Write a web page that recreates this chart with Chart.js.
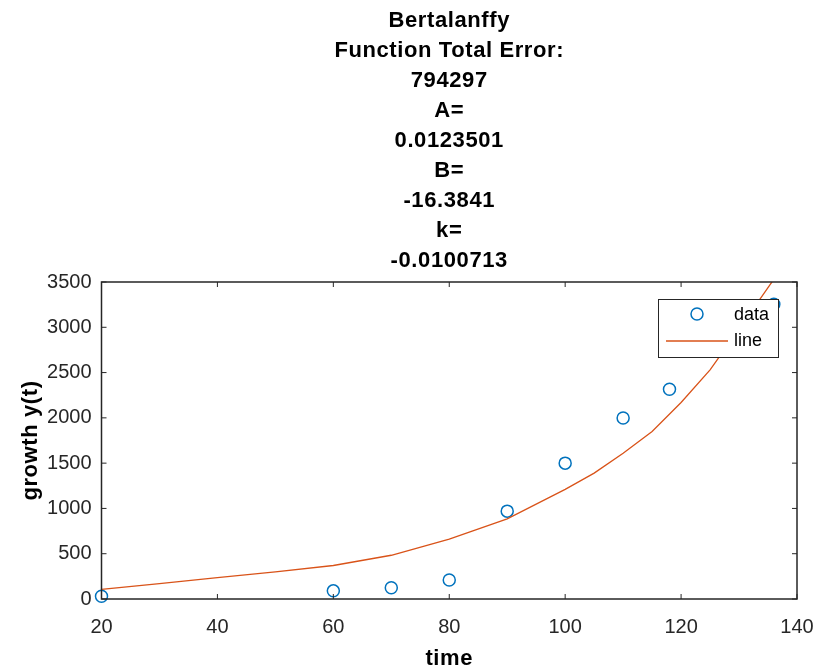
<!DOCTYPE html>
<html>
<head>
<meta charset="utf-8">
<script src="https://cdn.jsdelivr.net/npm/chart.js@4"></script>
<style>
  html, body { margin: 0; padding: 0; background: #fff; }
  #wrap { width: 816px; height: 672px; }
</style>
</head>
<body>
<div id="wrap"><canvas id="grafico" width="816" height="672"></canvas></div>
<script>
// measured data (circles)
const dataTime = [20, 60, 70, 80, 90, 100, 110, 118, 136];
const dataGrowth = [30, 90, 125, 210, 970, 1500, 1998, 2315, 3255];

// fitted curve
const lineTime = [20, 30, 40, 50, 60, 70, 80, 90, 100, 105, 110, 115, 120, 125, 130, 136];
const lineGrowth = [107, 170, 235, 300, 370, 483, 660, 885, 1210, 1390, 1610, 1850, 2170, 2530, 2980, 3530];

const titleLines = ['Bertalanffy', 'Function Total Error:', '794297', 'A=', '0.0123501', 'B=', '-16.3841', 'k=', '-0.0100713'];
const xTicks = [20, 40, 60, 80, 100, 120, 140];
const yTicks = [0, 500, 1000, 1500, 2000, 2500, 3000, 3500];

const axisColor = '#262626';
const blue = '#0072BD';
const orange = '#D95319';

// box, inward ticks, titles and legend drawn like MATLAB
const matlabLook = {
  id: 'matlabLook',
  afterDraw(chart) {
    const ctx = chart.ctx;
    const a = chart.chartArea;
    const xs = chart.scales.x, ys = chart.scales.y;
    ctx.save();

    // box
    ctx.strokeStyle = axisColor;
    ctx.lineWidth = 1.5;
    ctx.strokeRect(a.left, a.top, a.right - a.left, a.bottom - a.top);

    // inward ticks
    const tl = 5;
    ctx.beginPath();
    xTicks.forEach(v => {
      const px = xs.getPixelForValue(v);
      ctx.moveTo(px, a.bottom); ctx.lineTo(px, a.bottom - tl);
      ctx.moveTo(px, a.top); ctx.lineTo(px, a.top + tl);
    });
    yTicks.forEach(v => {
      const py = ys.getPixelForValue(v);
      ctx.moveTo(a.left, py); ctx.lineTo(a.left + tl, py);
      ctx.moveTo(a.right, py); ctx.lineTo(a.right - tl, py);
    });
    ctx.lineWidth = 1;
    ctx.stroke();

    // title
    const cx = (a.left + a.right) / 2;
    ctx.fillStyle = '#000';
    ctx.font = 'bold 22px "Liberation Sans", Arial, sans-serif';
    ctx.letterSpacing = '0.6px';
    ctx.textAlign = 'center';
    ctx.textBaseline = 'alphabetic';
    titleLines.forEach((t, i) => ctx.fillText(t, cx, 27 + i * 30));

    // axis labels
    ctx.fillText('time', cx, 665);
    ctx.save();
    ctx.translate(37, (a.top + a.bottom) / 2);
    ctx.rotate(-Math.PI / 2);
    ctx.fillText('growth y(t)', 0, 0);
    ctx.restore();
    ctx.letterSpacing = '0px';

    // legend
    const lx = 658, ly = 299, lw = 120, lh = 58;
    ctx.fillStyle = '#fff';
    ctx.fillRect(lx, ly, lw, lh);
    ctx.strokeStyle = axisColor;
    ctx.lineWidth = 1;
    ctx.strokeRect(lx + 0.5, ly + 0.5, lw, lh);

    ctx.beginPath();
    ctx.arc(697, 314, 6, 0, Math.PI * 2);
    ctx.strokeStyle = blue;
    ctx.lineWidth = 1.5;
    ctx.stroke();

    ctx.beginPath();
    ctx.moveTo(666, 341); ctx.lineTo(728, 341);
    ctx.strokeStyle = orange;
    ctx.lineWidth = 1.3;
    ctx.stroke();

    ctx.fillStyle = '#000';
    ctx.font = '18px "Liberation Sans", Arial, sans-serif';
    ctx.textAlign = 'left';
    ctx.textBaseline = 'middle';
    ctx.fillText(chart.data.datasets[0].label, 734, 315);
    ctx.fillText(chart.data.datasets[1].label, 734, 341);
    ctx.restore();
  }
};

const ctx = document.getElementById('grafico').getContext('2d');
new Chart(ctx, {
  type: 'scatter',
  data: {
    datasets: [{
      label: 'data',
      data: dataTime.map((t, i) => ({ x: t, y: dataGrowth[i] })),
      borderColor: blue,
      backgroundColor: 'rgba(0,0,0,0)',
      pointRadius: 6,
      pointBorderWidth: 1.5,
      clip: false,
      order: 2
    }, {
      label: 'line',
      type: 'line',
      data: lineTime.map((t, i) => ({ x: t, y: lineGrowth[i] })),
      borderColor: orange,
      borderWidth: 1.3,
      pointRadius: 0,
      tension: 0,
      fill: false,
      order: 1
    }]
  },
  options: {
    responsive: false,
    animation: false,
    layout: { padding: { top: 282, right: 19, left: 0, bottom: 0 } },
    plugins: {
      legend: { display: false },
      title: { display: false },
      tooltip: { enabled: false }
    },
    scales: {
      x: {
        type: 'linear',
        min: 20,
        max: 140,
        afterFit: s => { s.height = 73; s.paddingLeft = 0; s.paddingRight = 0; },
        afterBuildTicks: s => { s.ticks = xTicks.map(v => ({ value: v })); },
        grid: { display: false, drawTicks: false },
        border: { display: false },
        ticks: {
          color: axisColor,
          padding: 16,
          maxRotation: 0,
          callback: v => String(v),
          font: { family: '"Liberation Sans", Arial, sans-serif', size: 20 }
        }
      },
      y: {
        min: 0,
        max: 3500,
        afterFit: s => { s.width = 101.5; s.paddingTop = 0; s.paddingBottom = 0; },
        afterBuildTicks: s => { s.ticks = yTicks.map(v => ({ value: v })); },
        grid: { display: false, drawTicks: false },
        border: { display: false },
        ticks: {
          color: axisColor,
          padding: 10,
          callback: v => String(v),
          font: { family: '"Liberation Sans", Arial, sans-serif', size: 20 }
        }
      }
    }
  },
  plugins: [matlabLook]
});
</script>
</body>
</html>
